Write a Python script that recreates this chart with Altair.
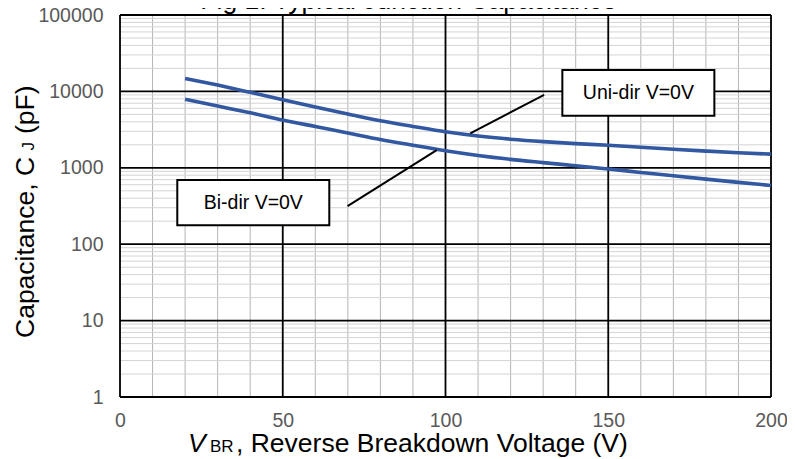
import altair as alt
import pandas as pd

# ---- data ----
volts = [20, 30, 40, 50, 60, 70, 80, 90, 100, 110, 120, 130, 140, 150, 160, 170, 180, 190, 200]
uni_dir = [14800, 12100, 9720, 7750, 6250, 5070, 4120, 3480, 2960, 2610, 2370, 2200, 2075, 1975, 1855, 1745, 1655, 1575, 1510]
bi_dir = [7870, 6430, 5250, 4220, 3470, 2860, 2350, 1975, 1670, 1450, 1290, 1170, 1065, 965, 870, 785, 710, 645, 588]

x_ticks = [0, 50, 100, 150, 200]
y_ticks = [1, 10, 100, 1000, 10000, 100000]
x_minor = [v for v in range(10, 200, 10) if v % 50]
y_minor = [k * 10 ** d for d in range(5) for k in range(2, 10)]

box_labels = ["Uni-dir V=0V", "Bi-dir V=0V"]
box_x1 = [135.9, 17.6]
box_x2 = [182.6, 64.3]
box_y1 = [4800, 177.5]
box_y2 = [19030, 690]
leader_x1 = [130.3, 69.9]
leader_y1 = [9036, 315]
leader_x2 = [107.6, 97.3]
leader_y2 = [2820, 1706]

title_text = "Fig 1. Typical Junction Capacitance"
stray_label = "0"

FONT = "Liberation Sans, Arial, sans-serif"
BLUE = "#3158A0"

xs = alt.Scale(domain=[0, 200], nice=False, zero=False)
ys = alt.Scale(type="log", domain=[1, 100000], nice=False)
xaxis = alt.Axis(values=x_ticks, title=None, ticks=False, tickSize=0, domain=False, grid=False,
                 labelFontSize=19.5, labelColor="#595959", labelFont=FONT, labelPadding=14,
                 labelFlush=False, labelOverlap=False)
yaxis = alt.Axis(values=y_ticks, title=None, ticks=False, tickSize=0, domain=False, grid=False,
                 format="d", labelFontSize=19.5, labelColor="#595959", labelFont=FONT,
                 labelPadding=17, labelFlush=False, labelOverlap=False)


def X(f):
    return alt.X(f, type="quantitative", scale=xs, axis=xaxis)


def Y(f):
    return alt.Y(f, type="quantitative", scale=ys, axis=yaxis)


curves = pd.DataFrame({
    "V": volts * 2,
    "C": uni_dir + bi_dir,
    "s": ["Uni"] * len(volts) + ["Bi"] * len(volts),
})

xminor_df = pd.DataFrame({"v": x_minor})
yminor_df = pd.DataFrame({"c": y_minor})
xmajor_df = pd.DataFrame({"v": x_ticks})
ymajor_df = pd.DataFrame({"c": y_ticks})
boxes = pd.DataFrame({"label": box_labels, "x1": box_x1, "x2": box_x2, "y1": box_y1, "y2": box_y2})
boxes["xc"] = (boxes["x1"] + boxes["x2"]) / 2
boxes["yc"] = (boxes["y1"] * boxes["y2"]) ** 0.5
leaders = pd.DataFrame({"x1": leader_x1, "y1": leader_y1, "x2": leader_x2, "y2": leader_y2})

grid_xminor = alt.Chart(xminor_df).mark_rule(color="#B4B4B4", strokeWidth=1).encode(x=X("v"))
grid_yminor = alt.Chart(yminor_df).mark_rule(color="#D4D4D4", strokeWidth=1).encode(y=Y("c"))
grid_xmajor = alt.Chart(xmajor_df).mark_rule(color="#000000", strokeWidth=1.8).encode(x=X("v"))
grid_ymajor = alt.Chart(ymajor_df).mark_rule(color="#000000", strokeWidth=1.8).encode(y=Y("c"))

lines = alt.Chart(curves).mark_line(color=BLUE, strokeWidth=3.6, interpolate="monotone").encode(
    x=X("V"), y=Y("C"), detail="s:N")

leader_rules = alt.Chart(leaders).mark_rule(color="#000000", strokeWidth=2).encode(
    x=X("x1"), y=Y("y1"), x2="x2", y2="y2")

box_rects = alt.Chart(boxes).mark_rect(fill="white", stroke="#000000", strokeWidth=2).encode(
    x=X("x1"), x2="x2", y=Y("y1"), y2="y2")

box_text = alt.Chart(boxes).mark_text(font=FONT, fontSize=19.5, color="#000000",
                                      align="center", baseline="middle").encode(
    x=X("xc"), y=Y("yc"), text="label:N")


def label(txt, x, y, size=26.5, angle=0, style="normal", color="#000000", align="left"):
    return alt.Chart(pd.DataFrame({"t": [txt]})).mark_text(
        font=FONT, fontSize=size, color=color, align=align, baseline="alphabetic",
        angle=angle, fontStyle=style).encode(text="t:N", x=alt.value(x), y=alt.value(y))


main_title = alt.Chart(pd.DataFrame({"t": [title_text]})).mark_text(
    font=FONT, fontSize=26.5, color="#000000", align="center", baseline="alphabetic").encode(
    text="t:N", x=alt.value(288.5), y=alt.value(-6))

xt1 = label("V", 68, 436.7, style="italic")
xt2 = label("BR", 90, 437, size=17)
xt3 = label(", Reverse Breakdown Voltage (V)", 116, 436.7)

yt1 = label("Capacitance, C", -86.5, 323, angle=270)
yt2 = label("J", -86, 135.5, size=17, angle=270)
yt3 = label("(pF)", -86.5, 119, angle=270)

stray = label(stray_label, -116.5, 408, size=19.5, color="#595959", align="right")

chart = alt.layer(
    grid_xminor, grid_yminor, grid_xmajor, grid_ymajor,
    lines, leader_rules, box_rects, box_text,
    main_title, xt1, xt2, xt3, yt1, yt2, yt3, stray,
).properties(
    width=651, height=382,
    padding={"left": 112, "top": 7, "right": 16, "bottom": 62},
    autosize=alt.AutoSizeParams(type="none"),
).configure_view(stroke=None).configure(background="white")

chart.save("out.html", embed_options={"renderer": "svg", "actions": False})
